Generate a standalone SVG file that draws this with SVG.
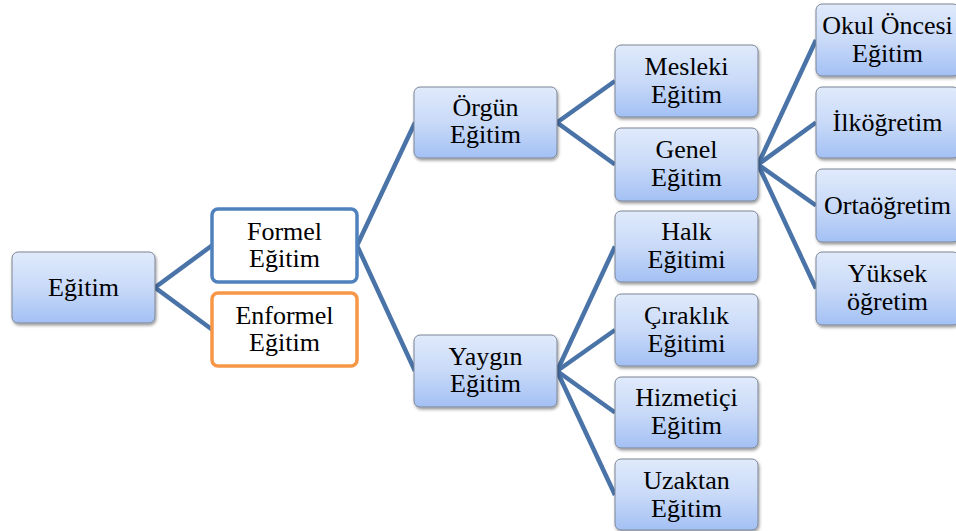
<svg xmlns="http://www.w3.org/2000/svg" width="956" height="531" viewBox="0 0 956 531">
  <defs>
    <linearGradient id="boxFill" x1="0" y1="0" x2="0" y2="1">
      <stop offset="0" stop-color="#e0eafb"/>
      <stop offset="0.5" stop-color="#c9daf8"/>
      <stop offset="1" stop-color="#a3c0f4"/>
    </linearGradient>
    <filter id="shadow" x="-10%" y="-10%" width="125%" height="130%">
      <feDropShadow dx="1" dy="2" stdDeviation="1.5" flood-color="#000" flood-opacity="0.4"/>
    </filter>
  </defs>
  <style>
    .box { fill: url(#boxFill); stroke: #7c8697; stroke-width: 1; filter: url(#shadow); }
    .formel { fill: #ffffff; stroke: #4f81bd; stroke-width: 3.5; }
    .enformel { fill: #ffffff; stroke: #f79646; stroke-width: 3.5; }
    .link { stroke: #4a73a8; stroke-width: 4.5; fill: none; stroke-linecap: butt; }
    .lbl { font-size: 26px; fill: #000; text-anchor: middle; }
  </style>
  <rect width="956" height="531" fill="#ffffff"/>

  <g id="connectors">
    <polyline class="link" points="212,245.5 155,287.5 212,329.5"/>
    <polyline class="link" points="415,122.5 357,245.5 415,371"/>
    <polyline class="link" points="615,81 557,122.5 615,164.5"/>
    <line class="link" x1="758" y1="164.5" x2="816" y2="40"/>
    <line class="link" x1="758" y1="164.5" x2="816" y2="122.5"/>
    <line class="link" x1="758" y1="164.5" x2="816" y2="205.5"/>
    <line class="link" x1="758" y1="164.5" x2="816" y2="288.5"/>
    <line class="link" x1="557" y1="371" x2="615" y2="246.5"/>
    <line class="link" x1="557" y1="371" x2="615" y2="330"/>
    <line class="link" x1="557" y1="371" x2="615" y2="412.5"/>
    <line class="link" x1="557" y1="371" x2="615" y2="495"/>
  </g>

  <g class="lbl" font-family="Liberation Serif, Tinos, Times New Roman, Times, DejaVu Serif, FreeSerif, serif">
  <g id="egitim">
    <rect class="box" x="12" y="252" width="143" height="71" rx="6"/>
    <text x="83.5" y="296">Eğitim</text>
  </g>

  <g id="formel">
    <rect class="formel" x="212" y="209" width="145" height="73" rx="6"/>
    <text x="284.5" y="240">Formel</text>
    <text x="284.5" y="267">Eğitim</text>
  </g>
  <g id="enformel">
    <rect class="enformel" x="212" y="293" width="145" height="73" rx="6"/>
    <text x="284.5" y="324">Enformel</text>
    <text x="284.5" y="351">Eğitim</text>
  </g>

  <g id="orgun">
    <rect class="box" x="414" y="87" width="143" height="71" rx="6"/>
    <text x="485.5" y="116">Örgün</text>
    <text x="485.5" y="143">Eğitim</text>
  </g>
  <g id="yaygin">
    <rect class="box" x="414" y="335" width="143" height="72" rx="6"/>
    <text x="485.5" y="365">Yaygın</text>
    <text x="485.5" y="392">Eğitim</text>
  </g>

  <g id="mesleki">
    <rect class="box" x="615" y="45" width="143" height="72" rx="6"/>
    <text x="686.5" y="75">Mesleki</text>
    <text x="686.5" y="103">Eğitim</text>
  </g>
  <g id="genel">
    <rect class="box" x="615" y="128" width="143" height="73" rx="6"/>
    <text x="686.5" y="158">Genel</text>
    <text x="686.5" y="186">Eğitim</text>
  </g>
  <g id="halk">
    <rect class="box" x="615" y="211" width="143" height="71" rx="6"/>
    <text x="686.5" y="240">Halk</text>
    <text x="686.5" y="268">Eğitimi</text>
  </g>
  <g id="cirak">
    <rect class="box" x="615" y="294" width="143" height="72" rx="6"/>
    <text x="686.5" y="324">Çıraklık</text>
    <text x="686.5" y="352">Eğitimi</text>
  </g>
  <g id="hizmetici">
    <rect class="box" x="615" y="377" width="143" height="71" rx="6"/>
    <text x="686.5" y="406">Hizmetiçi</text>
    <text x="686.5" y="434">Eğitim</text>
  </g>
  <g id="uzaktan">
    <rect class="box" x="615" y="459" width="143" height="71" rx="6"/>
    <text x="686.5" y="489">Uzaktan</text>
    <text x="686.5" y="517">Eğitim</text>
  </g>

  <g id="okul-oncesi">
    <rect class="box" x="816" y="4" width="143" height="72" rx="6"/>
    <text x="887.5" y="34">Okul Öncesi</text>
    <text x="887.5" y="62">Eğitim</text>
  </g>
  <g id="ilkogretim">
    <rect class="box" x="816" y="87" width="143" height="71" rx="6"/>
    <text x="887.5" y="131">İlköğretim</text>
  </g>
  <g id="ortaogretim">
    <rect class="box" x="816" y="169" width="143" height="73" rx="6"/>
    <text x="887.5" y="214">Ortaöğretim</text>
  </g>
  <g id="yuksek">
    <rect class="box" x="816" y="252" width="143" height="73" rx="6"/>
    <text x="887.5" y="282">Yüksek</text>
    <text x="887.5" y="310">öğretim</text>
  </g>
  </g>
</svg>
